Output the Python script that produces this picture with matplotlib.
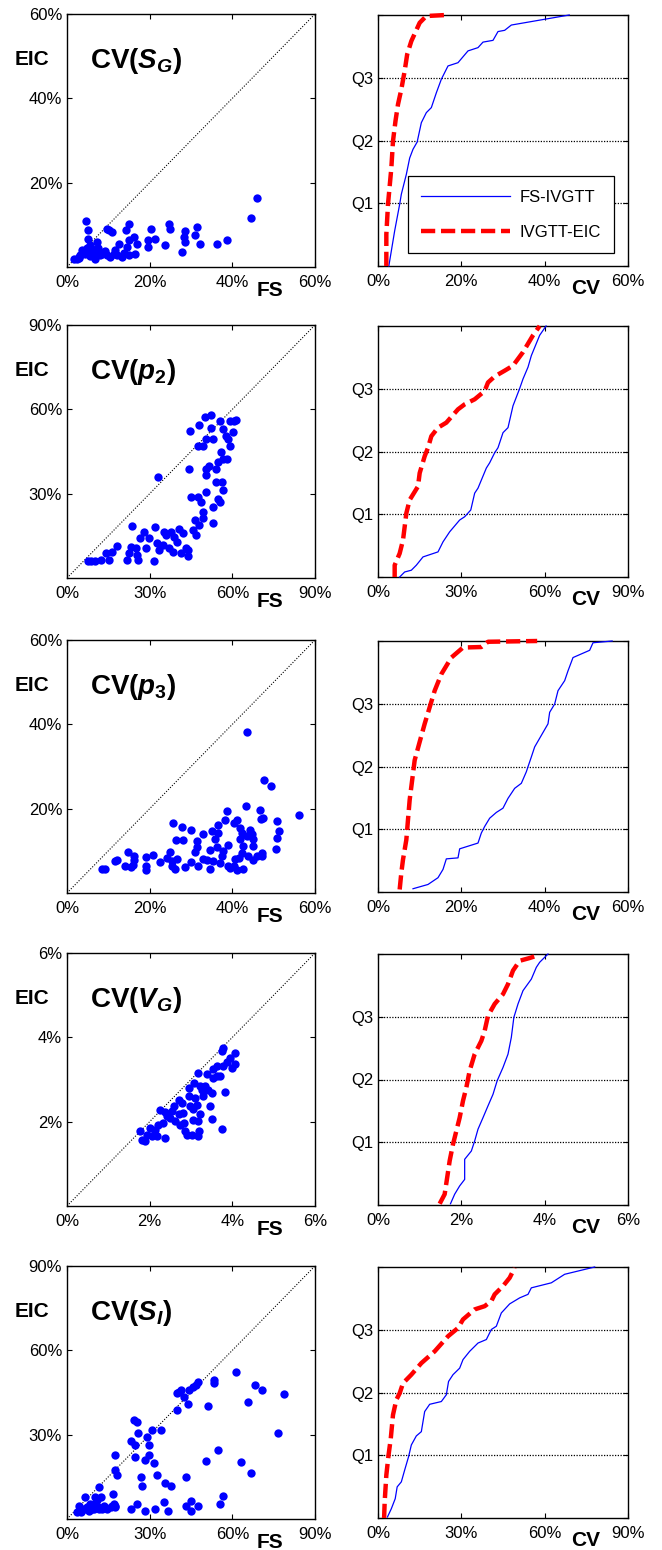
import numpy as np
import matplotlib
matplotlib.use("Agg")
import matplotlib.pyplot as plt

plt.rcParams["font.family"] = ["Liberation Sans", "DejaVu Sans"]
plt.rcParams["mathtext.fontset"] = "custom"
plt.rcParams["mathtext.rm"] = "Liberation Sans:bold"
plt.rcParams["mathtext.it"] = "Liberation Sans:bold:italic"
plt.rcParams["mathtext.bf"] = "Liberation Sans:bold"

# ---- CV(S_G): FS vs EIC per subject (%) ----
sg_fs = [45.9, 44.4, 38.6, 36.2, 31.4, 31.0, 32.2, 28.6, 28.2, 28.6, 27.8, 24.6, 24.9, 23.6, 20.4,
         21.2, 19.7, 19.6, 15.1, 14.3, 16.3, 16.9, 14.9, 14.5, 16.5, 15.1, 12.7, 11.7, 13.3, 10.9,
         10.1, 9.7, 11.3, 8.9, 7.6, 7.2, 5.2, 5.0, 4.5, 5.6, 6.4, 6.8, 4.4, 3.2, 2.4,
         1.8, 3.6, 4.8, 8.1, 9.7, 10.5, 12.1, 3.0, 4.0, 5.8, 6.0, 7.0, 8.5, 9.2, 2.8,
         5.5, 13.8]
sg_eic = [16.4, 11.6, 6.3, 5.5, 9.5, 7.5, 5.5, 8.6, 7.1, 5.9, 3.6, 10.1, 9.1, 5.1, 9.1,
          6.7, 6.5, 4.8, 10.1, 8.7, 7.1, 5.5, 6.3, 4.8, 3.2, 2.8, 5.5, 4.0, 2.4, 8.3,
          8.7, 9.1, 3.2, 3.6, 4.4, 5.9, 6.7, 8.7, 10.9, 5.1, 3.6, 2.0, 3.2, 2.8, 2.0,
          2.0, 4.0, 4.4, 2.8, 2.8, 2.4, 2.8, 2.4, 3.5, 3.0, 4.2, 3.4, 3.0, 3.8, 2.2,
          2.6, 3.4]

# ---- CV(p2) ----
p2_fs = [7.5, 8.8, 10.3, 12.2, 14.0, 15.2, 16.4, 18.2, 21.9, 22.6, 23.1, 23.5, 25.5, 25.9, 24.9,
         26.5, 27.9, 28.5, 29.8, 31.4, 32.0, 32.8, 33.1, 33.5, 34.7, 35.3, 35.8, 37.1, 37.7, 38.3,
         38.9, 40.1, 40.8, 41.4, 42.0, 43.2, 43.8, 43.8, 44.4, 44.8, 45.0, 45.6, 46.8, 46.6, 47.4,
         48.0, 47.4, 48.7, 49.3, 49.3, 48.0, 49.3, 50.2, 50.5, 50.5, 50.5, 50.5, 51.7, 52.3, 52.3,
         52.9, 52.9, 52.9, 54.1, 54.1, 54.7, 54.7, 55.4, 55.7, 56.0, 56.2, 56.6, 56.6, 56.6, 57.8,
         58.2, 58.4, 59.0, 59.0, 60.2, 60.6, 61.2]
p2_eic = [5.9, 5.9, 5.9, 6.5, 8.8, 6.5, 9.4, 11.5, 6.5, 8.8, 11.2, 18.6, 8.2, 6.5, 10.6,
          14.4, 16.5, 10.6, 14.1, 5.9, 18.2, 12.4, 35.9, 10.0, 11.8, 16.5, 15.3, 10.6, 16.5, 9.4,
          14.7, 12.9, 17.6, 8.8, 15.9, 10.6, 7.9, 10.0, 38.8, 52.4, 28.8, 17.1, 15.3, 20.6, 28.8,
          54.4, 47.1, 27.1, 23.5, 21.2, 18.8, 47.1, 57.1, 49.4, 38.8, 30.6, 36.5, 40.0, 57.9, 53.5,
          49.4, 25.3, 19.4, 38.8, 34.1, 41.2, 28.2, 27.1, 55.9, 44.9, 34.1, 52.9, 31.2, 42.4, 50.6,
          42.4, 49.4, 47.1, 55.9, 52.0, 55.9, 56.2]

# ---- CV(p3) ----
p3_fs = [8.5, 9.3, 11.7, 12.2, 14.1, 14.7, 15.5, 16.1, 16.3, 15.9, 19.1, 19.1, 19.2, 20.8, 22.4,
         24.2, 24.8, 25.4, 25.4, 25.6, 26.2, 26.6, 26.4, 27.8, 28.0, 28.6, 30.0, 30.0, 31.0, 31.4,
         31.4, 31.8, 32.9, 33.0, 33.8, 34.5, 34.6, 35.0, 35.4, 35.8, 36.2, 36.6, 36.6, 37.0, 37.4,
         37.8, 38.2, 38.6, 39.0, 39.0, 39.5, 40.3, 40.5, 40.7, 41.1, 41.1, 41.5, 41.9, 41.9, 42.3,
         42.3, 42.5, 42.7, 43.2, 43.5, 43.6, 43.9, 44.3, 44.7, 44.9, 44.9, 45.1, 45.9, 46.7, 46.9,
         47.1, 47.1, 47.3, 47.6, 49.3, 50.6, 50.9, 50.9, 51.4, 56.2]
p3_eic = [5.7, 5.7, 7.5, 7.8, 6.3, 9.7, 6.2, 7.8, 8.7, 6.7, 8.6, 6.5, 5.5, 8.9, 7.3,
          8.3, 9.7, 7.5, 6.3, 16.6, 5.7, 8.1, 12.5, 15.7, 12.5, 6.2, 15.0, 7.3, 9.7, 12.4,
          10.8, 6.5, 14.1, 8.1, 7.8, 5.7, 10.3, 14.6, 7.5, 12.7, 10.9, 14.3, 16.2, 7.1, 8.7,
          9.9, 17.4, 19.4, 11.5, 6.3, 5.9, 16.6, 6.3, 8.1, 17.4, 5.5, 8.3, 12.7, 15.4, 14.3,
          9.5, 5.7, 11.1, 20.6, 13.5, 38.2, 8.7, 15.0, 13.9, 12.7, 11.1, 7.9, 8.7, 19.8, 17.6,
          8.7, 9.5, 17.8, 26.9, 25.3, 10.5, 17.0, 13.1, 14.6, 18.6]

# ---- CV(V_G) ----
vg_fs = [1.77, 1.81, 1.89, 1.93, 2.01, 2.05, 2.13, 2.17, 2.21, 2.24, 2.33, 2.36, 2.38, 2.42, 2.50,
         2.54, 2.58, 2.62, 2.70, 2.72, 2.74, 2.78, 2.80, 2.82, 2.86, 2.90, 2.94, 2.96, 2.98, 3.02,
         3.04, 3.06, 3.08, 3.10, 3.14, 3.16, 3.18, 3.18, 3.20, 3.22, 3.22, 3.26, 3.30, 3.34, 3.38,
         3.42, 3.46, 3.50, 3.50, 3.54, 3.54, 3.62, 3.70, 3.74, 3.78, 3.77, 3.82, 3.86, 3.95, 3.99,
         4.07, 4.07, 3.74, 3.62]
vg_eic = [1.77, 1.57, 1.53, 1.69, 1.85, 1.65, 1.81, 1.67, 1.93, 2.27, 1.98, 2.22, 1.61, 2.13, 2.09,
          2.25, 2.37, 2.01, 2.52, 2.17, 1.93, 2.44, 2.21, 1.97, 1.77, 1.69, 2.60, 2.80, 2.37, 1.69,
          2.05, 2.29, 2.92, 2.56, 2.40, 3.16, 2.01, 1.65, 1.77, 2.84, 2.17, 2.76, 2.60, 2.84, 3.12,
          2.76, 2.38, 2.67, 2.06, 3.24, 3.04, 3.32, 3.08, 1.83, 3.75, 3.32, 2.70, 3.41, 3.52, 3.28,
          3.63, 3.36, 3.67, 3.08]

# ---- CV(S_I) ----
si_fs = [3.6, 4.9, 4.3, 6.1, 6.7, 7.3, 8.5, 9.1, 10.3, 10.9, 11.6, 12.2, 12.8, 13.4, 14.6,
         15.8, 16.4, 16.8, 17.0, 17.6, 17.3, 17.3, 18.2, 17.6, 7.9, 9.7, 23.1, 23.1, 24.3, 25.5,
         24.7, 24.7, 25.5, 25.9, 27.0, 27.1, 28.2, 28.3, 29.2, 29.6, 29.6, 31.0, 31.4, 32.0, 32.6,
         34.1, 35.3, 35.6, 36.5, 37.7, 40.1, 40.1, 40.7, 41.4, 42.3, 43.2, 43.2, 43.8, 44.4, 45.0,
         45.0, 45.6, 46.8, 47.4, 47.4, 50.4, 51.1, 53.5, 53.5, 54.7, 55.4, 56.6, 61.4, 63.3, 65.7,
         66.9, 68.1, 70.6, 76.6, 78.8, 4.9, 7.1, 8.8, 9.7, 11.6, 10.9]
si_eic = [2.4, 2.4, 4.8, 3.6, 7.7, 4.2, 5.4, 3.6, 7.7, 4.8, 11.3, 7.7, 3.6, 4.8, 3.6,
          4.2, 4.8, 8.9, 5.4, 4.2, 22.9, 17.5, 15.5, 4.8, 3.0, 3.6, 3.6, 27.6, 35.1, 34.5,
          22.2, 26.2, 5.4, 30.6, 14.9, 11.9, 3.0, 21.0, 29.1, 26.5, 22.8, 31.5, 19.9, 3.6, 15.5,
          31.7, 5.9, 12.7, 3.0, 11.9, 38.9, 44.8, 45.2, 45.8, 43.4, 14.9, 4.8, 41.0, 45.8, 6.5,
          3.0, 47.0, 47.6, 48.8, 4.8, 20.5, 40.2, 49.3, 48.4, 24.6, 5.4, 8.3, 52.3, 20.2, 41.6,
          16.3, 47.6, 45.8, 30.6, 44.6, 3.2, 3.6, 4.2, 5.4, 3.6, 6.8]

# ---- cumulative distributions of CV: value (%) vs cumulative fraction ----
sg_fs_cdf_x = [2.6, 4.0, 5.2, 5.6, 6.8, 7.6, 8.4, 9.4, 10.4, 11.6, 12.8, 14.0, 15.2, 16.8, 19.2,
               21.6, 24.0, 25.2, 27.6, 28.8, 30.4, 32.0, 45.9]
sg_fs_cdf_q = [0.0, 0.14, 0.246, 0.286, 0.365, 0.43, 0.465, 0.494, 0.571, 0.611, 0.631, 0.69, 0.744,
               0.797, 0.81, 0.857, 0.87, 0.892, 0.899, 0.934, 0.939, 0.96, 1.0]
sg_eic_cdf_x = [2.0, 2.0, 2.4, 3.2, 3.6, 4.2, 4.8, 5.6, 6.4, 7.0, 8.0, 10.0, 11.6, 16.4]
sg_eic_cdf_q = [0.0, 0.126, 0.246, 0.39, 0.498, 0.578, 0.644, 0.704, 0.777, 0.843, 0.896, 0.969,
                0.996, 1.0]

p2_fs_cdf_x = [7.8, 9.6, 12.0, 13.8, 16.2, 21.6, 23.4, 25.8, 29.4, 31.2, 33.4, 34.8, 36.0, 39.0,
               40.2, 42.0, 43.2, 45.0, 46.8, 48.6, 51.0, 52.2, 54.0, 55.2, 58.2, 60.5]
p2_fs_cdf_q = [0.0, 0.02, 0.027, 0.047, 0.08, 0.1, 0.14, 0.18, 0.227, 0.24, 0.267, 0.334, 0.354,
               0.434, 0.455, 0.495, 0.515, 0.575, 0.595, 0.682, 0.751, 0.789, 0.836, 0.882, 0.963, 1.0]
p2_eic_cdf_x = [6.0, 6.0, 7.8, 9.0, 9.6, 10.2, 11.4, 14.4, 15.0, 16.8, 18.0, 19.2, 21.6, 24.6,
                28.8, 31.2, 34.8, 38.4, 39.6, 42.0, 45.6, 48.6, 52.2, 55.8, 58.2]
p2_eic_cdf_q = [0.0, 0.047, 0.094, 0.147, 0.2, 0.254, 0.307, 0.361, 0.414, 0.481, 0.515, 0.561,
                0.595, 0.615, 0.668, 0.688, 0.708, 0.741, 0.775, 0.799, 0.822, 0.842, 0.896, 0.963, 1.0]

p3_fs_cdf_x = [8.4, 12.0, 14.4, 15.6, 16.4, 19.2, 19.6, 24.0, 24.8, 25.6, 26.8, 28.4, 30.0, 31.2,
               32.8, 34.4, 35.6, 36.0, 36.8, 37.6, 39.2, 40.8, 41.2, 42.4, 43.2, 44.8, 45.6, 46.8,
               50.8, 51.6, 56.2]
p3_fs_cdf_q = [0.013, 0.03, 0.057, 0.09, 0.132, 0.136, 0.172, 0.195, 0.235, 0.261, 0.294, 0.317,
               0.334, 0.373, 0.413, 0.433, 0.479, 0.499, 0.538, 0.578, 0.624, 0.670, 0.716, 0.749,
               0.802, 0.842, 0.881, 0.934, 0.963, 0.993, 1.0]
p3_eic_cdf_x = [5.2, 5.6, 6.0, 6.8, 7.2, 7.6, 8.4, 8.8, 10.0, 11.2, 12.4, 13.6, 15.2, 17.6, 20.4,
                24.8, 26.4, 38.2]
p3_eic_cdf_q = [0.01, 0.077, 0.129, 0.208, 0.288, 0.367, 0.472, 0.525, 0.598, 0.670, 0.736, 0.802,
                0.868, 0.934, 0.974, 0.976, 0.997, 1.0]

vg_fs_cdf_x = [1.74, 1.84, 1.96, 2.08, 2.08, 2.24, 2.32, 2.40, 2.52, 2.64, 2.76, 2.86, 3.0, 3.12,
               3.20, 3.26, 3.36, 3.48, 3.68, 3.80, 3.88, 4.08]
vg_fs_cdf_q = [0.005, 0.043, 0.076, 0.102, 0.182, 0.215, 0.255, 0.302, 0.348, 0.395, 0.441, 0.495,
               0.548, 0.601, 0.668, 0.747, 0.801, 0.854, 0.9, 0.947, 0.967, 1.0]
vg_eic_cdf_x = [1.48, 1.6, 1.66, 1.72, 1.80, 1.88, 1.96, 2.04, 2.12, 2.20, 2.32, 2.48, 2.56, 2.64,
                2.80, 3.0, 3.12, 3.24, 3.40, 3.64, 3.75]
vg_eic_cdf_q = [0.005, 0.043, 0.109, 0.176, 0.242, 0.295, 0.348, 0.415, 0.468, 0.535, 0.601, 0.654,
                0.694, 0.754, 0.801, 0.84, 0.88, 0.934, 0.973, 0.984, 0.99]

si_fs_cdf_x = [3.4, 4.8, 6.2, 6.9, 8.4, 9.6, 11.0, 12.0, 13.8, 15.6, 16.8, 18.6, 22.8, 24.6, 25.4,
               27.0, 29.4, 30.6, 33.0, 36.0, 39.0, 40.8, 42.6, 44.4, 47.4, 51.0, 54.0, 55.2, 62.4,
               67.2, 78.0]
si_fs_cdf_q = [0.004, 0.037, 0.077, 0.124, 0.144, 0.191, 0.244, 0.291, 0.327, 0.344, 0.424, 0.453,
               0.464, 0.491, 0.544, 0.571, 0.597, 0.631, 0.664, 0.697, 0.711, 0.751, 0.764, 0.817,
               0.853, 0.877, 0.891, 0.917, 0.937, 0.971, 1.0]
si_eic_cdf_x = [2.2, 2.4, 3.0, 3.8, 4.6, 5.4, 6.6, 7.8, 9.0, 12.0, 15.6, 20.4, 25.2, 28.8, 30.6,
                34.8, 38.4, 40.8, 42.0, 45.0, 47.4, 49.2]
si_eic_cdf_q = [0.0, 0.064, 0.171, 0.251, 0.317, 0.411, 0.471, 0.497, 0.537, 0.571, 0.617, 0.664,
                0.724, 0.757, 0.791, 0.831, 0.844, 0.864, 0.891, 0.924, 0.957, 0.997]

titles = [r"CV($S_G$)", r"CV($p_\mathit{2}$)", r"CV($p_\mathit{3}$)", r"CV($V_G$)", r"CV($S_I$)"]
axis_ticks = [[0, 20, 40, 60], [0, 30, 60, 90], [0, 20, 40, 60], [0, 2, 4, 6], [0, 30, 60, 90]]
quartile_labels = ["Q1", "Q2", "Q3"]

panels = [
    (sg_fs, sg_eic, sg_fs_cdf_x, sg_fs_cdf_q, sg_eic_cdf_x, sg_eic_cdf_q),
    (p2_fs, p2_eic, p2_fs_cdf_x, p2_fs_cdf_q, p2_eic_cdf_x, p2_eic_cdf_q),
    (p3_fs, p3_eic, p3_fs_cdf_x, p3_fs_cdf_q, p3_eic_cdf_x, p3_eic_cdf_q),
    (vg_fs, vg_eic, vg_fs_cdf_x, vg_fs_cdf_q, vg_eic_cdf_x, vg_eic_cdf_q),
    (si_fs, si_eic, si_fs_cdf_x, si_fs_cdf_q, si_eic_cdf_x, si_eic_cdf_q),
]

FIG_W, FIG_H = 662, 1550
fig = plt.figure(figsize=(FIG_W / 100, FIG_H / 100), dpi=100)


def add_axes_px(left, top, width, height):
    return fig.add_axes([left / FIG_W, 1 - (top + height) / FIG_H, width / FIG_W, height / FIG_H])


def frame(ax):
    for sp in ax.spines.values():
        sp.set_linewidth(1.0)
        sp.set_color("black")
    ax.tick_params(direction="in", top=True, right=True, length=3.5, width=0.8,
                   labelsize=12, colors="black")
    ax.tick_params(axis="x", pad=6)
    ax.tick_params(axis="y", pad=3.5)


row_tops = [14, 325, 640, 953, 1266]
AX_H = 253
BLUE = "#0000ff"
RED = "#ff0000"

for i, (fs, eic, fcx, fcq, ecx, ecq) in enumerate(panels):
    ticks = axis_ticks[i]
    lim = ticks[-1]
    tick_labels = [f"{t:g}%" for t in ticks]

    # scatter FS vs EIC with identity line
    ax = add_axes_px(67, row_tops[i], 248, AX_H)
    ax.plot([0, lim], [0, lim], color="black", lw=0.8, ls=(0, (1, 1.5)))
    ax.scatter(fs, eic, s=36, color=BLUE, linewidths=0, zorder=3)
    ax.set_xlim(0, lim)
    ax.set_ylim(0, lim)
    ax.set_xticks(ticks)
    ax.set_xticklabels(tick_labels)
    ax.set_yticks(ticks[1:])
    ax.set_yticklabels(tick_labels[1:])
    frame(ax)
    ax.text(-0.21, 0.798, "EIC", transform=ax.transAxes, fontsize=15, fontweight="bold",
            ha="left", va="baseline")
    ax.text(0.093, 0.786, titles[i], transform=ax.transAxes, fontsize=20, fontweight="bold",
            ha="left", va="baseline")
    ax.text(0.766, -0.113, "FS", transform=ax.transAxes, fontsize=15, fontweight="bold",
            ha="left", va="baseline")

    # cumulative distributions
    ax2 = add_axes_px(378, row_tops[i] + 1, 250, AX_H - 2)
    for q in [0.25, 0.5, 0.75]:
        ax2.axhline(q, color="black", lw=0.9, ls=(0, (1, 1.2)), zorder=1)
    ax2.plot(fcx, fcq, color=BLUE, lw=0.9, label="FS-IVGTT", zorder=3, clip_on=False)
    ax2.plot(ecx, ecq, color=RED, lw=3.2, ls=(0, (3.2, 1.3)), label="IVGTT-EIC", zorder=4,
             clip_on=False)
    ax2.set_xlim(0, lim)
    ax2.set_ylim(0, 1)
    ax2.set_xticks(ticks)
    ax2.set_xticklabels(tick_labels)
    ax2.set_yticks([0, 0.25, 0.5, 0.75, 1])
    ax2.set_yticklabels([""] + quartile_labels + [""])
    frame(ax2)
    ax2.text(0.772, -0.113, "CV", transform=ax2.transAxes, fontsize=15, fontweight="bold",
             ha="left", va="baseline")

    if i == 0:
        leg = ax2.legend(loc="lower left", bbox_to_anchor=(0.12, 0.052), borderaxespad=0,
                         fontsize=12, handlelength=5.3, handletextpad=0.6, labelspacing=1.2,
                         borderpad=0.8, fancybox=False, edgecolor="black", framealpha=1)
        leg.get_frame().set_linewidth(0.9)

fig.savefig("out.png", dpi=100)
